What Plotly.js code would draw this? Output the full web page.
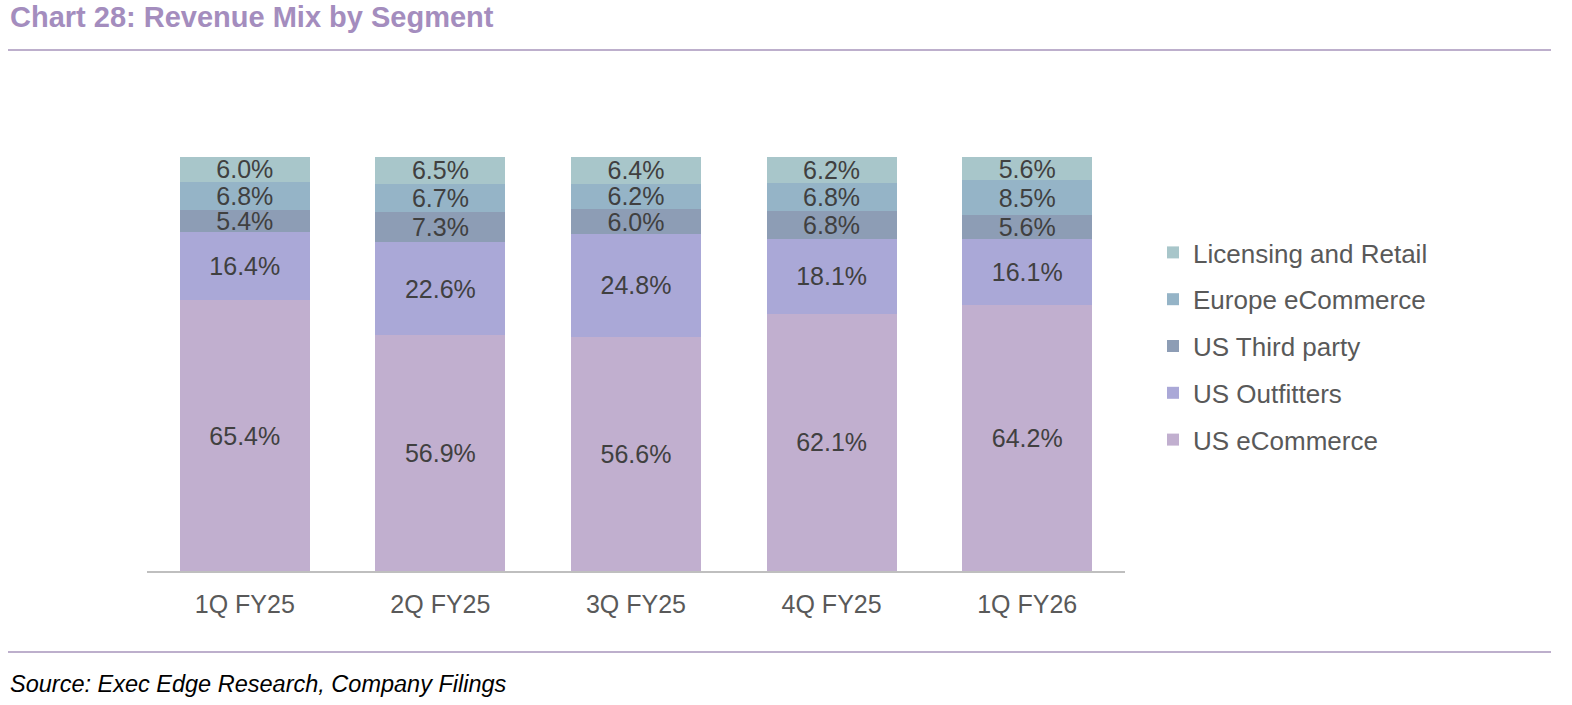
<!DOCTYPE html>
<html>
<head>
<meta charset="utf-8">
<script src="https://cdn.plot.ly/plotly-3.0.1.min.js"></script>
<style>
  html, body { margin: 0; padding: 0; background: #fff; }
  #chart { width: 1572px; height: 705px; }
</style>
</head>
<body>
<div id="chart"></div>
<script>
const quarters = ["1Q FY25", "2Q FY25", "3Q FY25", "4Q FY25", "1Q FY26"];

const usEcommerce = [65.4, 56.9, 56.6, 62.1, 64.2];
const usOutfitters = [16.4, 22.6, 24.8, 18.1, 16.1];
const usThirdParty = [5.4, 7.3, 6.0, 6.8, 5.6];
const europeEcommerce = [6.8, 6.7, 6.2, 6.8, 8.5];
const licensingRetail = [6.0, 6.5, 6.4, 6.2, 5.6];

const seriesNames = ["US eCommerce", "US Outfitters", "US Third party", "Europe eCommerce", "Licensing and Retail"];
const seriesValues = [usEcommerce, usOutfitters, usThirdParty, europeEcommerce, licensingRetail];
const seriesColors = ["#C1AFCF", "#AAA8D7", "#8D9DB5", "#95B4C7", "#A8C6CA"];

const font = "Liberation Sans, Arial, sans-serif";

// one legend group per trace so tracegroupgap spaces the legend rows,
// legendrank puts the top segment first
const traces = seriesNames.map((name, i) => ({
  type: "bar",
  name,
  legendgroup: "g" + i,
  legendrank: 10 - i,
  x: quarters,
  y: seriesValues[i],
  marker: {color: seriesColors[i]},
  text: seriesValues[i].map(v => v.toFixed(1) + "%"),
  textposition: "inside",
  insidetextanchor: "middle",
  constraintext: "none",
  textangle: 0,
  textfont: {family: font, size: 25, color: "#404040"},
  hoverinfo: "skip"
}));

// plot area is 147..1125 x, 157..571 y
const layout = {
  width: 1572,
  height: 705,
  margin: {l: 147, r: 447, t: 157, b: 134},
  barmode: "stack",
  bargap: 0.335,
  paper_bgcolor: "#fff",
  plot_bgcolor: "#fff",
  showlegend: true,
  title: {
    text: "<b>Chart 28: Revenue Mix by Segment</b>",
    font: {family: font, size: 29, color: "#A48DBE"},
    xref: "container", yref: "container",
    x: 10 / 1572, xanchor: "left",
    y: 1 - 17 / 705, yanchor: "middle"
  },
  xaxis: {
    showline: true,
    linecolor: "#BFBFBF",
    linewidth: 2,
    ticks: "",
    tickfont: {family: font, size: 25, color: "#595959"},
    ticklabelstandoff: 10,
    fixedrange: true
  },
  yaxis: {
    range: [0, 100],
    visible: false,
    showgrid: false,
    zeroline: false,
    fixedrange: true
  },
  legend: {
    traceorder: "grouped",
    x: 1153 / 1572, xref: "container",
    y: 1 - 229 / 705, yref: "container",
    xanchor: "left", yanchor: "top",
    font: {family: font, size: 26, color: "#595959"},
    itemwidth: 30,
    tracegroupgap: 10
  },
  shapes: [
    {type: "line", xref: "paper", yref: "paper",
     x0: (8 - 147) / 978, x1: (1551 - 147) / 978,
     y0: (571 - 50) / 414, y1: (571 - 50) / 414,
     line: {color: "#A794BB", width: 1.5}},
    {type: "line", xref: "paper", yref: "paper",
     x0: (8 - 147) / 978, x1: (1551 - 147) / 978,
     y0: (571 - 652) / 414, y1: (571 - 652) / 414,
     line: {color: "#A794BB", width: 1.5}}
  ],
  annotations: [
    {text: "<i>Source: Exec Edge Research, Company Filings</i>",
     xref: "paper", yref: "paper",
     x: (8 - 147) / 978, xanchor: "left",
     y: (571 - 684) / 414, yanchor: "middle",
     showarrow: false,
     font: {family: font, size: 23.5, color: "#000"}}
  ]
};

Plotly.newPlot("chart", traces, layout, {displayModeBar: false, staticPlot: true});
</script>
</body>
</html>
